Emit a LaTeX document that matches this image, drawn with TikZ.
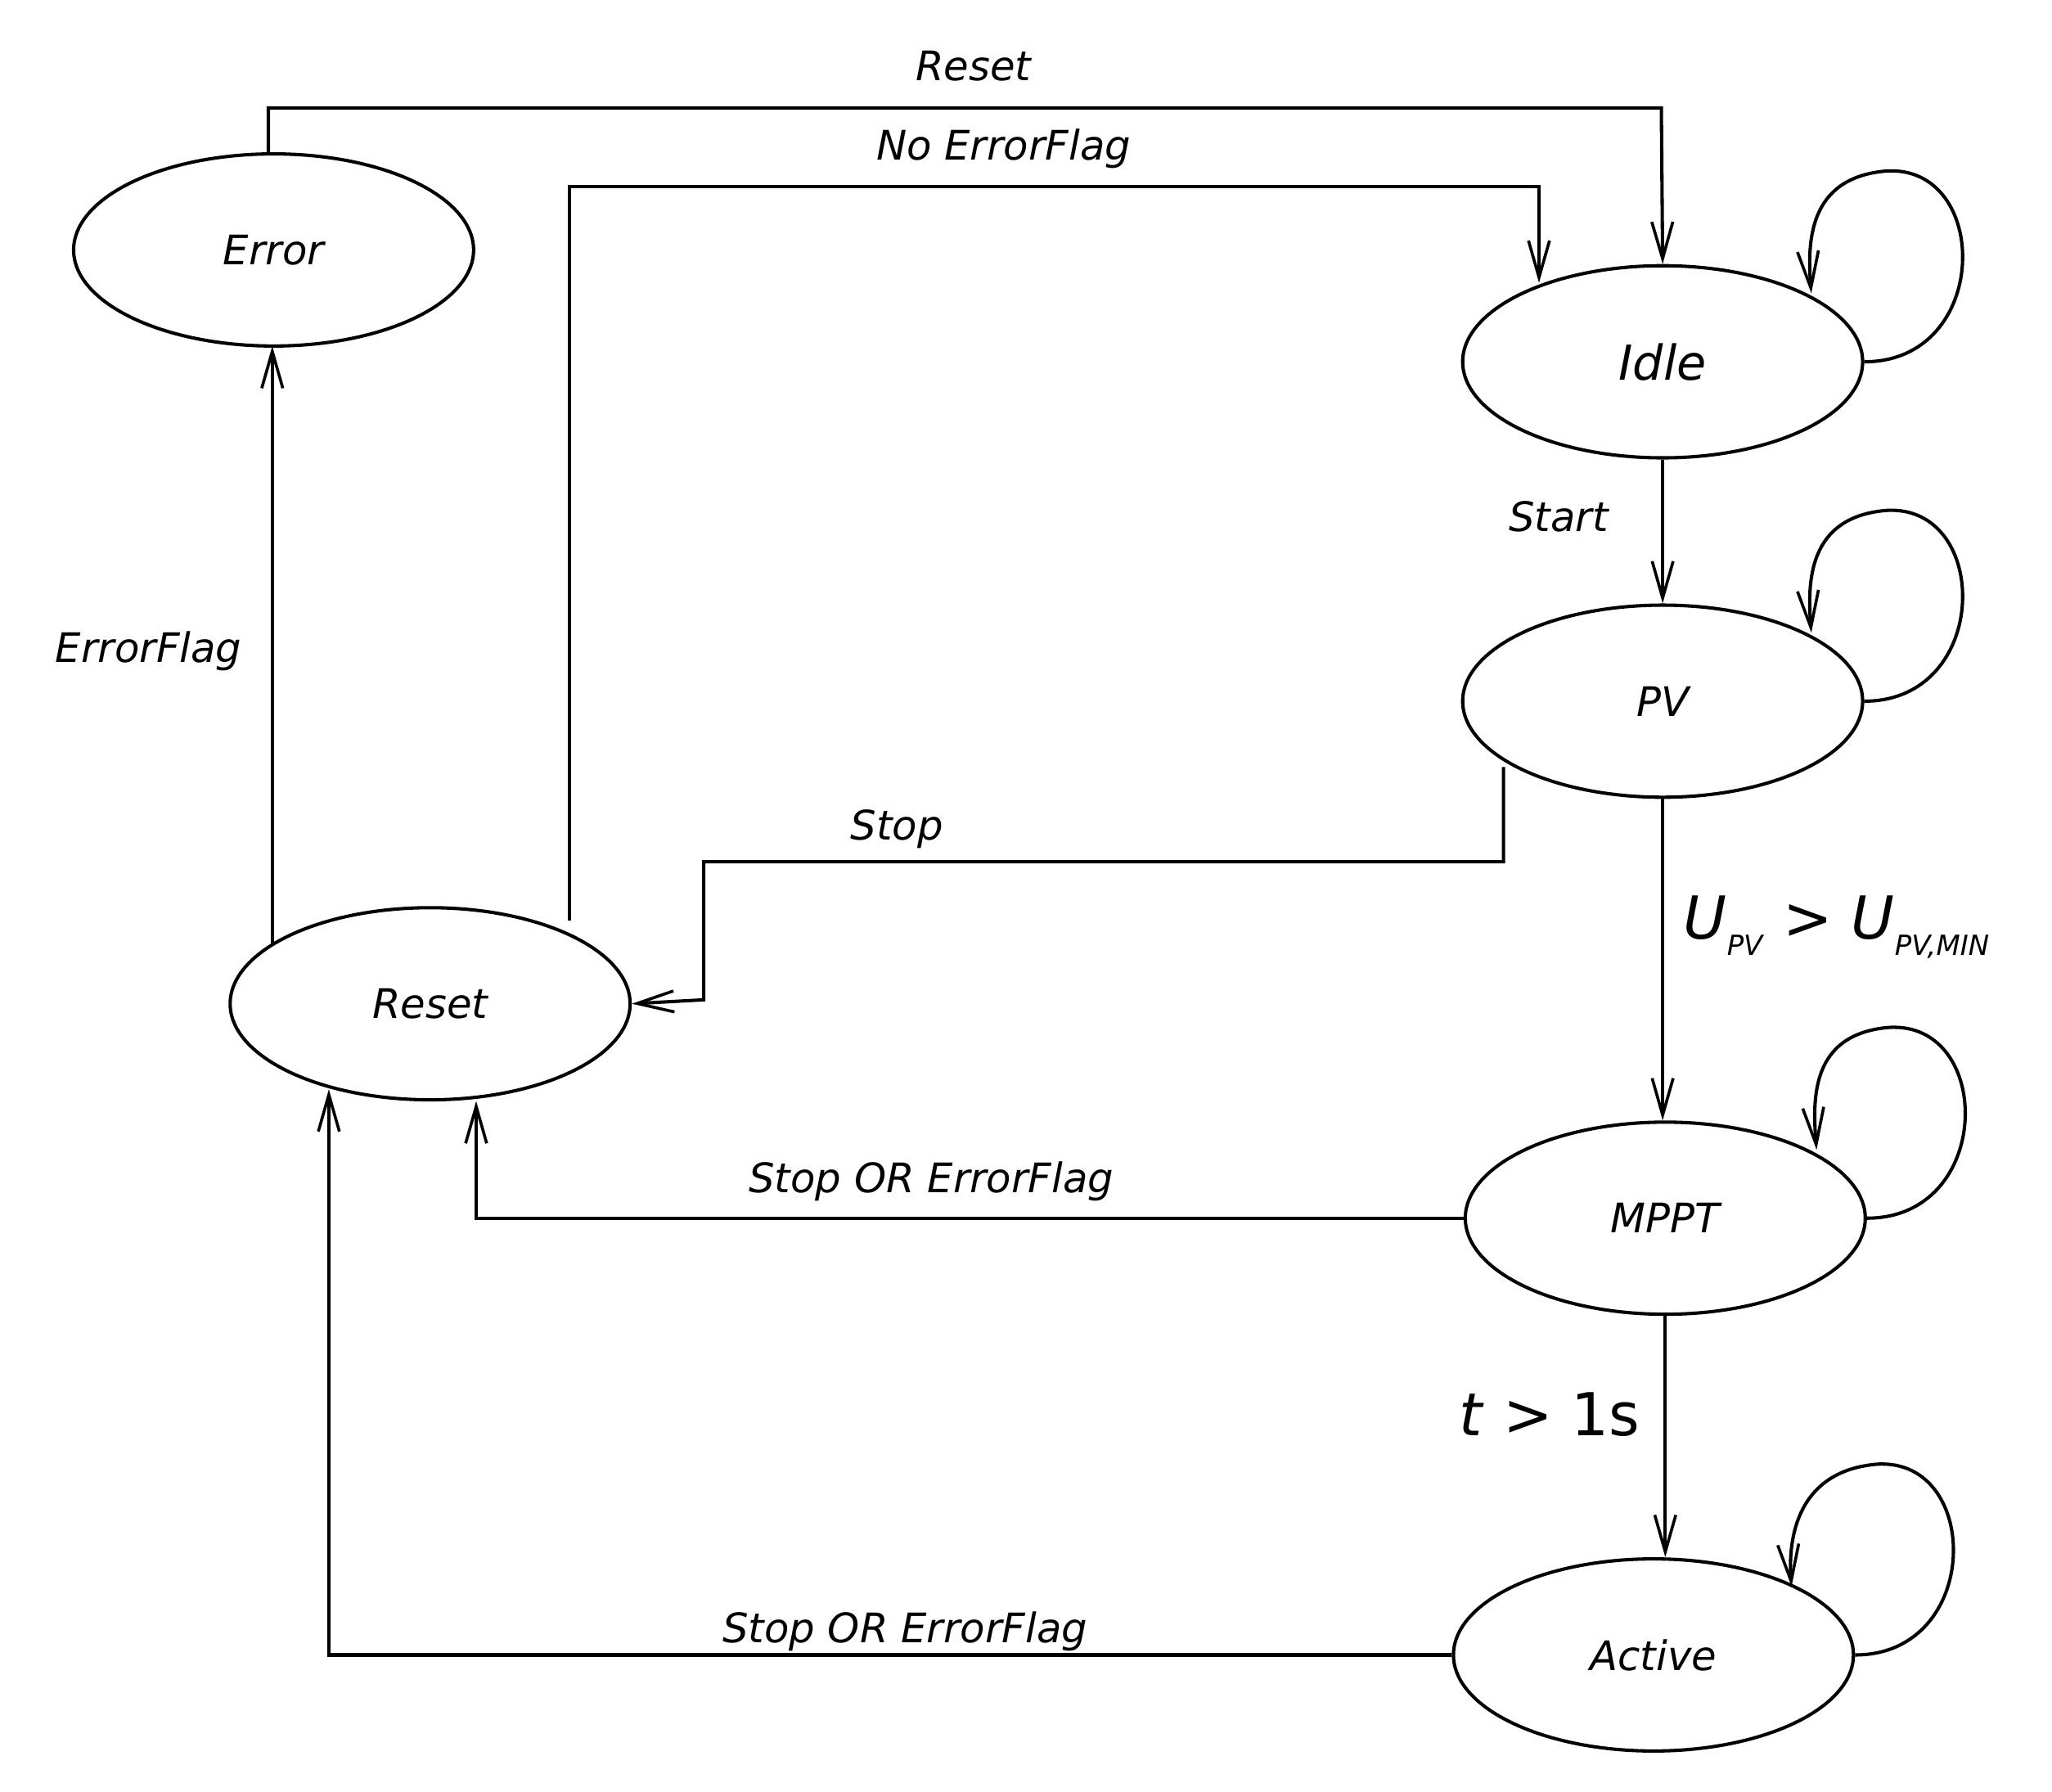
\documentclass[tikz,border=0pt]{standalone}
\usepackage{fontspec}
\setmainfont{DejaVu Sans}
\usetikzlibrary{arrows.meta,calc,shapes.geometric}
\begin{document}
\begin{tikzpicture}[x=0.025cm,y=-0.025cm,
  st/.style={ellipse,draw,line width=1.8pt,minimum width=7.6cm,minimum height=3.65cm,inner sep=0pt,font=\fontsize{22}{26}\selectfont\itshape},
  ed/.style={line width=1.8pt,-{Straight Barb[length=7mm,width=4mm,line width=1.6pt]}},
  lb/.style={font=\fontsize{22}{26}\selectfont\itshape}]
\useasboundingbox (0,0) rectangle (1560,1362);
\node[st] (E) at (208,190) {Error};
\node[st,font=\fontsize{26}{30}\selectfont\itshape] (I) at (1264,275) {Idle};
\node[st] (P) at (1264,533) {PV};
\node[st] (M) at (1266,926) {MPPT};
\node[st] (A) at (1257,1258) {Active};
\node[st] (R) at (327,763) {Reset};
\coordinate (e1) at (204,117);
\coordinate (r1) at (433,700);
\coordinate (p1) at (1143,583);
\draw[ed] (e1) -- (204,82) -- (1263,82) -- (I.north);
\node[lb] (l1) at (740,50) {Reset};
\draw[ed] (r1) -- (433,142) -- (1170,142) -- (1170,215);
\node[lb] (l2) at (763,113) {No ErrorFlag};
\draw[ed] (207,717) -- (207,263);
\node[lb] (l3) at (113,495) {ErrorFlag};
\draw[ed] (I.south) -- (P.north);
\node[lb] (l4) at (1185,393) {Start};
\draw[ed] (p1) -- (1143,655) -- (535,655) -- (535,760) -- (R.east);
\node[lb] (l5) at (682,630) {Stop};
\draw[ed] (P.south) -- (P.south |- M.north);
\node[anchor=west,font=\fontsize{32}{36}\selectfont] (l6) at (1275,705) {\textit{U}\raisebox{-0.5ex}{\fontsize{15}{18}\selectfont\textit{PV}} > \textit{U}\raisebox{-0.5ex}{\fontsize{15}{18}\selectfont\textit{PV,MIN}}};
\draw[ed] (M.west) -- (362,926) -- (362,837);
\node[lb] (l7) at (708,898) {Stop OR ErrorFlag};
\draw[ed] (M.south) -- (M.south |- A.north);
\node[font=\fontsize{32}{36}\selectfont] (l8) at (1178,1075) {\textit{t} > 1s};
\draw[ed] (A.west) -- (250,1258) -- (250,828);
\node[lb] (l9) at (688,1240) {Stop OR ErrorFlag};
\foreach \n/\dx in {I/0,P/0,M/2,A/-8}{
  \draw[ed] (\n.east) .. controls ($(\n)+(250,0)$) and ($(\n)+(250,-150)$) .. ($(\n)+(170,-145)$) .. controls ($(\n)+(110,-140)$) and ($(\n)+(110+\dx,-90)$) .. ($(\n)+(113+\dx,-52)$);
}
\end{tikzpicture}
\end{document}
